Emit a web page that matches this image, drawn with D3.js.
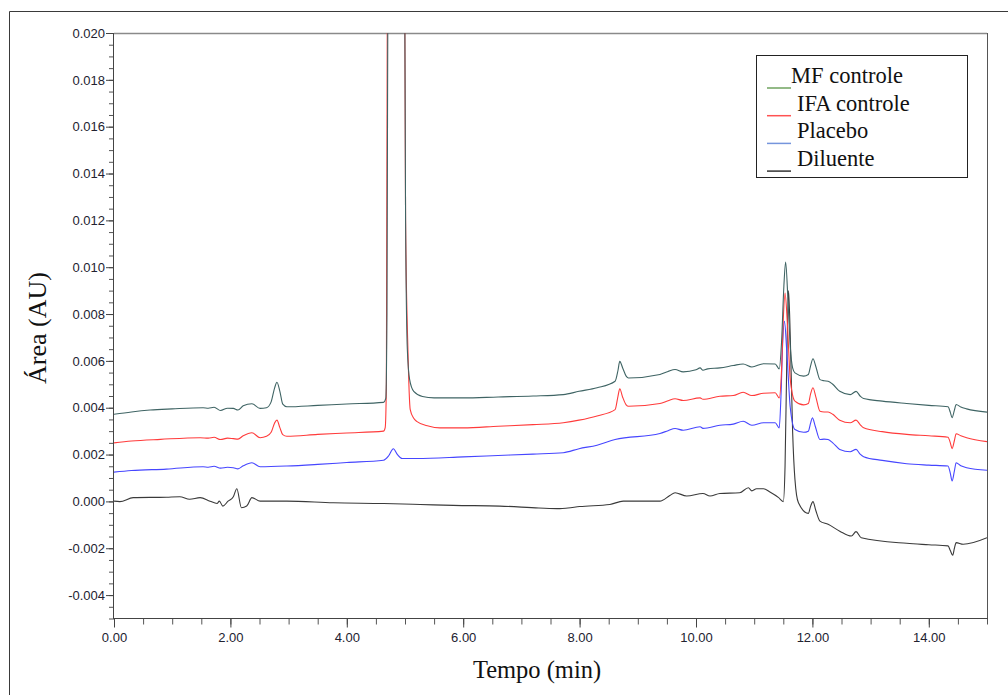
<!DOCTYPE html>
<html>
<head>
<meta charset="utf-8">
<script src="https://cdn.jsdelivr.net/npm/d3@7"></script>
<style>
  body { margin: 0; background: #fff; }
  svg { display: block; }
  .tick text { font-family: "Liberation Sans", Arial, sans-serif; font-size: 13px; fill: #222230; }
  .serif { font-family: "Liberation Serif", "Times New Roman", serif; fill: #111; }
</style>
</head>
<body>
<script>
// chromatogram traces, [time (min), absorbance (AU)]
var mfControle = [
  [0, 0.00372], [0.3, 0.00382], [0.62, 0.00390], [1.0, 0.00395], [1.53, 0.00400], [1.62, 0.00398],
  [1.72, 0.00402], [1.83, 0.00388], [1.95, 0.00398], [2.05, 0.00397], [2.13, 0.00390], [2.22, 0.00408],
  [2.37, 0.00417], [2.51, 0.00397], [2.62, 0.00400], [2.70, 0.00425], [2.76, 0.00485], [2.80, 0.00509],
  [2.85, 0.00470], [2.90, 0.00415], [2.97, 0.00404], [3.5, 0.00410], [4.0, 0.00416], [4.63, 0.00423],
  [4.67, 0.00440], [4.69, 0.00800], [4.71, 0.02500], [4.85, 0.04000], [4.99, 0.02500], [5.01, 0.01200],
  [5.04, 0.00650], [5.08, 0.00520], [5.15, 0.00470], [5.3, 0.00448], [5.5, 0.00442], [6.0, 0.00442],
  [6.6, 0.00446], [7.2, 0.00450], [7.72, 0.00456], [7.99, 0.00470], [8.3, 0.00485], [8.61, 0.00513],
  [8.66, 0.00560], [8.69, 0.00598], [8.74, 0.00570], [8.80, 0.00535], [8.84, 0.00527], [9.38, 0.00542],
  [9.52, 0.00555], [9.64, 0.00563], [9.78, 0.00553], [10.0, 0.00562], [10.07, 0.00570], [10.12, 0.00560],
  [10.2, 0.00566], [10.41, 0.00570], [10.64, 0.00580], [10.81, 0.00587], [10.96, 0.00574], [11.16, 0.00588],
  [11.36, 0.00587], [11.43, 0.00566], [11.47, 0.00680], [11.51, 0.00920], [11.54, 0.01022], [11.58, 0.00860],
  [11.62, 0.00660], [11.66, 0.00570], [11.70, 0.00549], [11.85, 0.00535], [11.93, 0.00542], [11.97, 0.00580],
  [12.01, 0.00609], [12.06, 0.00575], [12.13, 0.00520], [12.20, 0.00515], [12.27, 0.00513], [12.35, 0.00500],
  [12.47, 0.00470], [12.65, 0.00456], [12.75, 0.00470], [12.82, 0.00450], [12.88, 0.00439], [13.2, 0.00428],
  [13.62, 0.00418], [14.0, 0.00410], [14.33, 0.00404], [14.37, 0.00380], [14.40, 0.00357], [14.44, 0.00390],
  [14.47, 0.00414], [14.55, 0.00403], [14.65, 0.00395], [15.0, 0.00381]
];

var ifaControle = [
  [0, 0.00250], [0.3, 0.00258], [0.8, 0.00265], [1.48, 0.00272], [1.62, 0.00270], [1.72, 0.00274],
  [1.83, 0.00264], [1.95, 0.00270], [2.05, 0.00268], [2.13, 0.00266], [2.22, 0.00280], [2.37, 0.00293],
  [2.51, 0.00272], [2.62, 0.00278], [2.70, 0.00295], [2.76, 0.00335], [2.80, 0.00347], [2.85, 0.00315],
  [2.90, 0.00285], [2.97, 0.00278], [3.5, 0.00286], [4.0, 0.00292], [4.63, 0.00300], [4.66, 0.00315],
  [4.68, 0.00500], [4.70, 0.02500], [4.85, 0.04000], [4.99, 0.02500], [5.01, 0.01200], [5.05, 0.00650],
  [5.09, 0.00392], [5.15, 0.00355], [5.2, 0.00342], [5.4, 0.00322], [5.6, 0.00314], [6.0, 0.00314],
  [6.6, 0.00321], [7.2, 0.00328], [7.72, 0.00336], [7.99, 0.00347], [8.3, 0.00365], [8.61, 0.00392],
  [8.66, 0.00450], [8.69, 0.00481], [8.74, 0.00445], [8.80, 0.00412], [8.84, 0.00406], [9.38, 0.00418],
  [9.52, 0.00430], [9.64, 0.00438], [9.78, 0.00431], [10.07, 0.00442], [10.12, 0.00436], [10.41, 0.00449],
  [10.64, 0.00452], [10.81, 0.00466], [10.96, 0.00452], [11.16, 0.00462], [11.36, 0.00464], [11.43, 0.00442],
  [11.47, 0.00560], [11.50, 0.00780], [11.53, 0.00890], [11.57, 0.00760], [11.62, 0.00520], [11.70, 0.00428],
  [11.85, 0.00412], [11.93, 0.00418], [11.97, 0.00460], [12.01, 0.00485], [12.06, 0.00445], [12.13, 0.00385],
  [12.20, 0.00382], [12.27, 0.00382], [12.35, 0.00372], [12.47, 0.00347], [12.65, 0.00336], [12.75, 0.00347],
  [12.82, 0.00328], [12.88, 0.00314], [13.2, 0.00298], [13.62, 0.00286], [14.0, 0.00280], [14.33, 0.00274],
  [14.37, 0.00250], [14.40, 0.00225], [14.44, 0.00260], [14.47, 0.00289], [14.55, 0.00280], [14.65, 0.00272],
  [15.0, 0.00255]
];

var placebo = [
  [0, 0.00125], [0.3, 0.00132], [0.9, 0.00138], [1.53, 0.00148], [1.62, 0.00146], [1.72, 0.00150],
  [1.83, 0.00142], [1.95, 0.00146], [2.05, 0.00144], [2.13, 0.00139], [2.22, 0.00152], [2.37, 0.00165],
  [2.51, 0.00148], [2.97, 0.00151], [3.5, 0.00158], [4.0, 0.00166], [4.63, 0.00176], [4.72, 0.00195],
  [4.80, 0.00225], [4.87, 0.00200], [4.95, 0.00183], [5.2, 0.00183], [6.0, 0.00190], [6.6, 0.00196],
  [7.2, 0.00202], [7.72, 0.00208], [7.99, 0.00225], [8.3, 0.00240], [8.61, 0.00264], [9.38, 0.00290],
  [9.52, 0.00302], [9.64, 0.00311], [9.78, 0.00304], [10.07, 0.00319], [10.12, 0.00312], [10.41, 0.00325],
  [10.64, 0.00330], [10.81, 0.00342], [10.96, 0.00325], [11.16, 0.00336], [11.36, 0.00336], [11.43, 0.00314],
  [11.46, 0.00450], [11.49, 0.00680], [11.52, 0.00769], [11.56, 0.00640], [11.62, 0.00400], [11.70, 0.00307],
  [11.85, 0.00295], [11.93, 0.00300], [11.97, 0.00335], [12.0, 0.00357], [12.05, 0.00320], [12.13, 0.00264],
  [12.20, 0.00266], [12.27, 0.00264], [12.35, 0.00250], [12.47, 0.00222], [12.65, 0.00212], [12.75, 0.00222],
  [12.82, 0.00202], [12.88, 0.00191], [13.2, 0.00175], [13.62, 0.00161], [14.0, 0.00155], [14.33, 0.00151],
  [14.37, 0.00120], [14.40, 0.00087], [14.44, 0.00130], [14.47, 0.00165], [14.55, 0.00152], [14.65, 0.00144],
  [15.0, 0.00133]
];

var diluente = [
  [0, 0.00001], [0.10, -0.00001], [0.33, 0.00016], [0.9, 0.00018], [1.13, 0.00020], [1.30, 0.00009],
  [1.48, 0.00016], [1.65, 0.00001], [1.77, -0.00009], [1.81, 0.00001], [1.87, -0.00020], [1.96, 0.00001],
  [2.05, 0.00020], [2.11, 0.00054], [2.19, -0.00027], [2.28, -0.00020], [2.37, 0.00016], [2.51, 0.00001],
  [2.97, 0.00001], [3.77, -0.00006], [4.63, -0.00009], [5.26, -0.00013], [5.83, -0.00017], [6.63, -0.00020],
  [7.3, -0.00028], [7.66, -0.00031], [7.8, -0.00028], [8.0, -0.00022], [8.52, -0.00013], [8.75, 0.00001],
  [9.38, 0.00001], [9.55, 0.00025], [9.64, 0.00037], [9.84, 0.00023], [10.12, 0.00034], [10.24, 0.00023],
  [10.41, 0.00034], [10.75, 0.00037], [10.90, 0.00058], [10.96, 0.00045], [11.04, 0.00054], [11.16, 0.00054],
  [11.27, 0.00040], [11.42, 0.00016], [11.50, -0.00001], [11.53, 0.00150], [11.56, 0.00600], [11.59, 0.00900],
  [11.62, 0.00700], [11.66, 0.00300], [11.70, 0.00094], [11.76, -0.00006], [11.93, -0.00051], [11.97, -0.00020],
  [12.01, -0.00001], [12.06, -0.00040], [12.13, -0.00084], [12.27, -0.00098], [12.47, -0.00127], [12.67, -0.00148],
  [12.75, -0.00129], [12.84, -0.00155], [13.62, -0.00179], [14.0, -0.00185], [14.33, -0.00190], [14.37, -0.00210],
  [14.41, -0.00230], [14.44, -0.00200], [14.47, -0.00176], [14.59, -0.00183], [15.0, -0.00155]
];

var seriesNames = ['MF controle', 'IFA controle', 'Placebo', 'Diluente'];
var seriesData = [mfControle, ifaControle, placebo, diluente];
var lineColors = ['#3f6464', '#ff3b3b', '#4646ff', '#3a3a3a'];
var legendColors = ['#6fa35f', '#ff5252', '#7595dc', '#333333'];

var xMajor = [0, 2, 4, 6, 8, 10, 12, 14];
var yMajor = [-0.004, -0.002, 0, 0.002, 0.004, 0.006, 0.008, 0.010, 0.012, 0.014, 0.016, 0.018, 0.020];

var svgWidth = 1008;
var svgHeight = 695;
var plotLeft = 114, plotRight = 987, plotTop = 33, plotBottom = 618.5;

var svg = d3.select('body').append('svg').attr('width', svgWidth).attr('height', svgHeight);

// outer frame (only top and left edge show)
svg.append('path')
  .attr('d', 'M9.5,' + svgHeight + 'V11.5H' + svgWidth)
  .attr('fill', 'none')
  .attr('stroke', '#3a3a3a');

var x = d3.scaleLinear().domain([0, 15]).range([plotLeft, plotRight]);
var y = d3.scaleLinear().domain([-0.005, 0.020]).range([plotBottom, plotTop]);

svg.append('clipPath').attr('id', 'plot-clip')
  .append('rect')
  .attr('x', plotLeft).attr('y', plotTop)
  .attr('width', plotRight - plotLeft).attr('height', plotBottom - plotTop);

// minor ticks
svg.append('g')
  .attr('transform', 'translate(' + plotLeft + ',0)')
  .call(d3.axisLeft(y).tickValues(d3.range(-0.005, 0.02001, 0.0005)).tickSize(5).tickFormat(''))
  .call(function (g) { g.select('.domain').remove(); g.selectAll('line').attr('stroke', '#555'); });

svg.append('g')
  .attr('transform', 'translate(0,' + plotBottom + ')')
  .call(d3.axisBottom(x).tickValues(d3.range(0, 15.01, 0.5)).tickSize(6).tickFormat(''))
  .call(function (g) { g.select('.domain').remove(); g.selectAll('line').attr('stroke', '#555'); });

// major ticks + labels
svg.append('g')
  .attr('transform', 'translate(' + plotLeft + ',0)')
  .call(d3.axisLeft(y).tickValues(yMajor).tickSize(8).tickPadding(1).tickFormat(function (d) {
    return d.toFixed(3);
  }))
  .call(function (g) { g.select('.domain').remove(); g.selectAll('line').attr('stroke', '#444'); });

svg.append('g')
  .attr('transform', 'translate(0,' + plotBottom + ')')
  .call(d3.axisBottom(x).tickValues(xMajor).tickSize(9).tickPadding(5).tickFormat(function (d) {
    return d.toFixed(2);
  }))
  .call(function (g) { g.select('.domain').remove(); g.selectAll('line').attr('stroke', '#444'); });

// plot frame
svg.append('line')
  .attr('x1', plotLeft).attr('x2', plotRight).attr('y1', plotTop + 0.5).attr('y2', plotTop + 0.5)
  .attr('stroke', '#8a8a8a').attr('stroke-width', 1.5);
svg.append('line')
  .attr('x1', plotRight + 0.5).attr('x2', plotRight + 0.5).attr('y1', plotTop).attr('y2', plotBottom)
  .attr('stroke', '#555');
svg.append('line')
  .attr('x1', plotLeft - 0.5).attr('x2', plotLeft - 0.5).attr('y1', plotTop).attr('y2', plotBottom + 0.5)
  .attr('stroke', '#444');
svg.append('line')
  .attr('x1', plotLeft - 0.5).attr('x2', plotRight + 1).attr('y1', plotBottom).attr('y2', plotBottom)
  .attr('stroke', '#444');

var line = d3.line()
  .x(function (d) { return x(d[0]); })
  .y(function (d) { return y(d[1]); })
  .curve(d3.curveMonotoneX);

svg.append('g')
  .attr('clip-path', 'url(#plot-clip)')
  .selectAll('path')
  .data(seriesData.slice().reverse())
  .enter()
  .append('path')
  .attr('d', line)
  .attr('fill', 'none')
  .attr('stroke', function (d, i) { return lineColors[seriesData.length - 1 - i]; })
  .attr('stroke-width', 1.1);

// axis titles
svg.append('text')
  .attr('class', 'serif')
  .attr('transform', 'translate(46,328) rotate(-90)')
  .attr('text-anchor', 'middle')
  .style('font-size', '26px')
  .text('Área (AU)');

svg.append('text')
  .attr('class', 'serif')
  .attr('x', 537)
  .attr('y', 678)
  .attr('text-anchor', 'middle')
  .style('font-size', '24.5px')
  .text('Tempo (min)');

// legend
var legend = svg.append('g');
legend.append('rect')
  .attr('x', 756.5).attr('y', 55.5)
  .attr('width', 211).attr('height', 122)
  .attr('fill', '#fff').attr('stroke', '#222');

var legendRows = legend.selectAll('g.row')
  .data(seriesNames)
  .enter()
  .append('g')
  .attr('class', 'row')
  .attr('transform', function (d, i) { return 'translate(0,' + (i * 27.7) + ')'; });

legendRows.append('line')
  .attr('x1', 767).attr('x2', 791)
  .attr('y1', 88).attr('y2', 88)
  .attr('stroke', function (d, i) { return legendColors[i]; })
  .attr('stroke-width', 1.5);

legendRows.append('text')
  .attr('class', 'serif')
  .attr('x', function (d, i) { return i === 0 ? 791 : 797; })
  .attr('y', 83)
  .style('font-size', '22.5px')
  .text(function (d) { return d; });
</script>
</body>
</html>
